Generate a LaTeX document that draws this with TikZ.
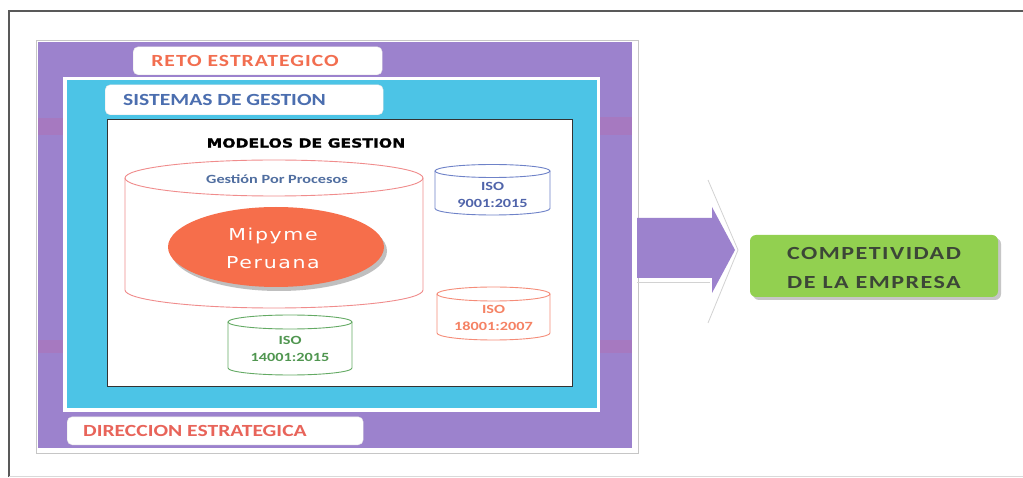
\documentclass[tikz,border=0pt]{standalone}
\usepackage{fontspec}
\setmainfont{Carlito}
\newfontfamily\lblfont[FakeStretch=1.27]{Carlito}
\newfontfamily\modfont[FakeStretch=1.25,FakeBold=1.2]{DejaVu Sans}
\newfontfamily\mipfont[FakeStretch=1.25,LetterSpace=10]{DejaVu Sans}
\newfontfamily\isofont[FakeStretch=1.3]{Carlito}
\newfontfamily\compfont[FakeStretch=1.3,LetterSpace=8]{Carlito}
\usetikzlibrary{shapes.geometric}
\definecolor{purp}{RGB}{156,130,205}
\definecolor{smudge}{RGB}{185,105,170}
\definecolor{cyanb}{RGB}{76,196,230}
\definecolor{retoC}{RGB}{242,110,80}
\definecolor{sisC}{RGB}{75,110,175}
\definecolor{dirC}{RGB}{232,100,90}
\definecolor{gppC}{RGB}{80,110,160}
\definecolor{cylR}{RGB}{240,140,140}
\definecolor{cylB}{RGB}{110,130,200}
\definecolor{cylS}{RGB}{245,140,120}
\definecolor{cylG}{RGB}{100,170,100}
\definecolor{isoB}{RGB}{80,100,170}
\definecolor{isoS}{RGB}{245,130,100}
\definecolor{isoG}{RGB}{80,150,80}
\definecolor{mipC}{RGB}{246,110,75}
\definecolor{compG}{RGB}{146,208,80}
\definecolor{compT}{RGB}{60,70,55}
\newcommand\mycyl[6]{%
  \draw[#6, line width=0.9pt, fill=white] (#1-#2,#3) -- (#1-#2,#4)
    arc[start angle=180,end angle=360,x radius=#2,y radius=#5] -- (#1+#2,#3);
  \draw[#6, line width=0.9pt] (#1,#3) ellipse[x radius=#2, y radius=#5];
}
\tikzset{
  whitebox/.style={fill=white, draw=gray!20, rounded corners=5pt, inner sep=0pt, anchor=south west},
  lbl/.style={font=\lblfont\bfseries\fontsize{17}{17}\selectfont, inner sep=0pt},
  isotxt/.style={font=\isofont\bfseries\fontsize{12.5}{17}\selectfont, align=center, inner sep=0pt},
}
\begin{document}
\begin{tikzpicture}[x=1pt,y=1pt]
\useasboundingbox (0,0) rectangle (1023,477);
\fill[white] (0,0) rectangle (1023,477);
% outer frame
\draw[black!65, line width=1.2pt] (9,0) -- (9,466) -- (1023,466);
\draw[gray!30, line width=0.8pt] (9,1) -- (1023,1);
% shadow panel and purple frame
\draw[gray!45, line width=0.8pt, fill=white] (36,24) rectangle (638,437);
\fill[purp] (38,29) rectangle (632,435);
\fill[smudge, opacity=0.35] (38,342) rectangle (63,359);
\fill[smudge, opacity=0.35] (38,124) rectangle (63,137);
\fill[smudge, opacity=0.35] (600,342) rectangle (632,360);
\fill[smudge, opacity=0.35] (600,124) rectangle (632,137);
% cyan frame
\fill[white] (63,65) rectangle (600,400);
\fill[cyanb] (67,69) rectangle (597,397);
% inner white panel
\node[draw=black!80, line width=1pt, fill=white, minimum width=465pt, minimum height=267pt, anchor=south west, inner sep=0pt] (modelos) at (107,90) {};
% label boxes
\node[whitebox, minimum width=249pt, minimum height=28pt] (retobox) at (133,402) {};
\node[lbl, text=retoC] (reto) at (245,416) {\addfontfeature{LetterSpace=6}RETO ESTRATEGICO};
\node[whitebox, minimum width=278pt, minimum height=30pt] (sisbox) at (105,362) {};
\node[lbl, text=sisC, anchor=west] (sis) at (123,377) {SISTEMAS DE GESTION};
\node[whitebox, minimum width=296pt, minimum height=28pt] (dirbox) at (67,32) {};
\node[lbl, text=dirC, anchor=west] (dir) at (83,46) {DIRECCION ESTRATEGICA};
% title
\node[font=\modfont\bfseries\fontsize{12.5}{12.5}\selectfont, inner sep=0pt] (modt) at (306,334) {MODELOS DE GESTION};
% big cylinder
\mycyl{274}{149}{299}{187}{18}{cylR}
\node[font=\isofont\bfseries\fontsize{12.5}{12.5}\selectfont, text=gppC, inner sep=0pt] (gpp) at (277,298) {Gestión Por Procesos};
% Mipyme ellipse
\fill[gray!50] (279,226) ellipse[x radius=108, y radius=40];
\node[ellipse, fill=mipC, minimum width=216pt, minimum height=80pt, inner sep=0pt] (mip) at (276,230) {};
\node[font=\mipfont\fontsize{16.4}{28}\selectfont, text=white, align=center, inner sep=0pt] (miptxt) at (273,229) {Mipyme\\Peruana};
% ISO cylinders
\mycyl{492.5}{57.5}{306}{268.5}{6.5}{cylB}
\node[isotxt, text=isoB] (iso9) at (492.5,282) {ISO\\9001:2015};
\mycyl{493.5}{56.5}{183}{144}{7}{cylS}
\node[isotxt, text=isoS] (iso18) at (493.5,159.5) {ISO\\18001:2007};
\mycyl{290}{62}{155}{109}{7}{cylG}
\node[isotxt, text=isoG] (iso14) at (290,128.5) {ISO\\14001:2015};
% result box
\fill[gray!45, rounded corners=6pt] (753,177) rectangle (1001,239);
\node[fill=compG, rounded corners=6pt, minimum width=248pt, minimum height=62pt, inner sep=0pt] (comp) at (874,211) {};
\node[font=\compfont\bfseries\fontsize{18.5}{29}\selectfont, text=compT, align=center, inner sep=0pt] (comptxt) at (874,209) {COMPETIVIDAD\\DE LA EMPRESA};
% block arrow
\draw[gray!35, line width=0.8pt] (708,297) -- (738,227) -- (708,154);
\draw[gray!35, line width=0.8pt] (637,195) -- (710,195);
\fill[purp] (637,199) -- (712,199) -- (712,184) -- (735,227) -- (712,270) -- (712,259) -- (637,259) -- cycle;
\end{tikzpicture}
\end{document}
